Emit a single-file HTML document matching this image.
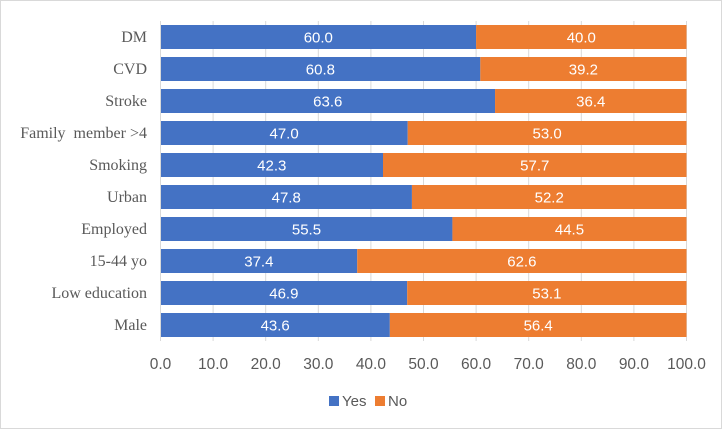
<!DOCTYPE html>
<html><head><meta charset="utf-8"><style>
html,body{margin:0;padding:0;background:#fff}
#c{position:relative;width:722px;height:429px;box-sizing:border-box;border:1px solid #d9d9d9;overflow:hidden}
svg{position:absolute;left:0;top:0}
text{white-space:pre}
</style></head><body>
<div id="c">
<svg id="s" width="722" height="429"></svg>
</div>
<script>
const categories=["DM","CVD","Stroke","Family  member >4","Smoking","Urban","Employed","15-44 yo","Low education","Male"];
const yesValues=[60.0,60.8,63.6,47.0,42.3,47.8,55.5,37.4,46.9,43.6];
const noValues=[40.0,39.2,36.4,53.0,57.7,52.2,44.5,62.6,53.1,56.4];
const xTicks=[0,10,20,30,40,50,60,70,80,90,100];
const NS="http://www.w3.org/2000/svg";
const svg=document.getElementById('s');
const X0=159.5,X1=685.5,T=20,B=340,band=(B-T)/categories.length,bh=24;
const x=v=>X0+(v/100)*(X1-X0);
const y=i=>T+i*band+(band-bh)/2;
function mk(t,a,txt){const e=document.createElementNS(NS,t);for(const k in a)e.setAttribute(k,a[k]);if(txt!==undefined)e.textContent=txt;svg.appendChild(e);return e;}
xTicks.forEach(v=>{
 const g=mk('line',{x1:x(v),x2:x(v),y1:T,y2:B,stroke:'#d9d9d9','stroke-width':1});
 
 
 const t=mk('text',{x:x(v),y:368,'text-anchor':'middle','font-family':'Liberation Sans, sans-serif','font-size':15.5,fill:'#595959'},v.toFixed(1));
 
 
});
categories.forEach((c,i)=>{
 const yy=y(i);
 const r1=mk('rect',{x:x(0),y:yy,width:x(yesValues[i])-x(0),height:bh,fill:'#4472c4'});
 
 
 const r2=mk('rect',{x:x(yesValues[i]),y:yy,width:x(yesValues[i]+noValues[i])-x(yesValues[i]),height:bh,fill:'#ed7d31'});
 
 
 const l1=mk('text',{x:(x(0)+x(yesValues[i]))/2,y:yy+17.5,'text-anchor':'middle','font-family':'Liberation Sans, sans-serif','font-size':15,fill:'#fff'},yesValues[i].toFixed(1));
 
 
 const l2=mk('text',{x:(x(yesValues[i])+x(yesValues[i]+noValues[i]))/2,y:yy+17.5,'text-anchor':'middle','font-family':'Liberation Sans, sans-serif','font-size':15,fill:'#fff'},noValues[i].toFixed(1));
 
 
 const cl=mk('text',{x:146,y:yy+17,'text-anchor':'end','font-family':'Liberation Serif, serif','font-size':16,fill:'#595959'},c);
 
 
});
const ax=mk('line',{x1:X0,x2:X0,y1:T,y2:B,stroke:'#d9d9d9','stroke-width':1});


const lg=[["Yes","#4472c4",328],["No","#ed7d31",374]];
lg.forEach(([n,col,lx])=>{
 const r=mk('rect',{x:lx,y:395,width:10,height:10,fill:col});
 
 
 const t=mk('text',{x:lx+13,y:405,'font-family':'Liberation Sans, sans-serif','font-size':15,fill:'#595959'},n);
 
 
});
</script>
</body></html>
